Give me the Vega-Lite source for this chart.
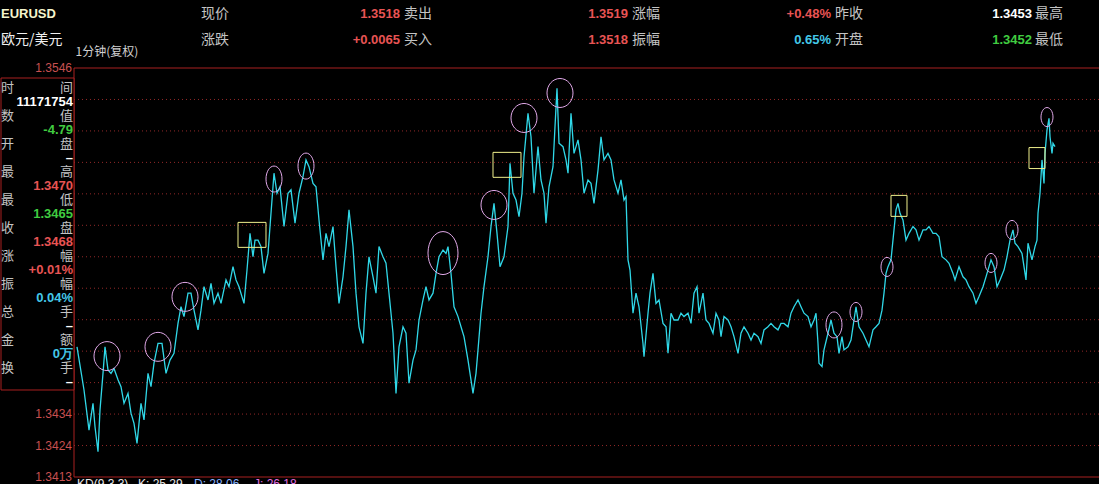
{
  "$schema": "https://vega.github.io/schema/vega-lite/v6.json",
  "background": "#000000",
  "padding": 0,
  "spacing": 0,
  "bounds": "flush",
  "config": {"view": {"stroke": null}, "concat": {"spacing": 0}},
  "resolve": {"scale": {"color": "independent"}},
  "datasets": {
    "header": [
      {"row": 1, "group": 0, "label": "EURUSD"},
      {"row": 2, "group": 0, "label": "欧元/美元"},
      {"row": 1, "group": 1, "label": "现价", "value": "1.3518", "tone": "up"},
      {"row": 2, "group": 1, "label": "涨跌", "value": "+0.0065", "tone": "up"},
      {"row": 1, "group": 2, "label": "卖出", "value": "1.3519", "tone": "up"},
      {"row": 2, "group": 2, "label": "买入", "value": "1.3518", "tone": "up"},
      {"row": 1, "group": 3, "label": "涨幅", "value": "+0.48%", "tone": "up"},
      {"row": 2, "group": 3, "label": "振幅", "value": "0.65%", "tone": "flat"},
      {"row": 1, "group": 4, "label": "昨收", "value": "1.3453", "tone": "plain"},
      {"row": 2, "group": 4, "label": "开盘", "value": "1.3452", "tone": "down"},
      {"row": 1, "group": 5, "label": "最高"},
      {"row": 2, "group": 5, "label": "最低"}
    ],
    "panel": [
      {"row": 0, "left": "时", "right": "间", "tone": "label"},
      {"row": 1, "right": "11171754", "tone": "plain"},
      {"row": 2, "left": "数", "right": "值", "tone": "label"},
      {"row": 3, "right": "-4.79", "tone": "down"},
      {"row": 4, "left": "开", "right": "盘", "tone": "label"},
      {"row": 5, "right": "–", "tone": "plain"},
      {"row": 6, "left": "最", "right": "高", "tone": "label"},
      {"row": 7, "right": "1.3470", "tone": "up"},
      {"row": 8, "left": "最", "right": "低", "tone": "label"},
      {"row": 9, "right": "1.3465", "tone": "down"},
      {"row": 10, "left": "收", "right": "盘", "tone": "label"},
      {"row": 11, "right": "1.3468", "tone": "up"},
      {"row": 12, "left": "涨", "right": "幅", "tone": "label"},
      {"row": 13, "right": "+0.01%", "tone": "up"},
      {"row": 14, "left": "振", "right": "幅", "tone": "label"},
      {"row": 15, "right": "0.04%", "tone": "flat"},
      {"row": 16, "left": "总", "right": "手", "tone": "label"},
      {"row": 17, "right": "–", "tone": "plain"},
      {"row": 18, "left": "金", "right": "额", "tone": "label"},
      {"row": 19, "right": "0万", "tone": "flat"},
      {"row": 20, "left": "换", "right": "手", "tone": "label"},
      {"row": 21, "right": "–", "tone": "plain"}
    ],
    "footer": [
      {"item": 0, "text": "KD(9,3,3)", "tone": "plain"},
      {"item": 1, "text": "K: 25.29", "tone": "plain"},
      {"item": 2, "text": "D: 28.06", "tone": "dline"},
      {"item": 3, "text": "J: 26.18", "tone": "jline"}
    ],
    "levels": [
      {"price": 1.34236}, {"price": 1.34338}, {"price": 1.3444}, {"price": 1.34542}, {"price": 1.34644}, {"price": 1.34746},
      {"price": 1.34848}, {"price": 1.3495}, {"price": 1.35052}, {"price": 1.35154}, {"price": 1.35256}, {"price": 1.35358}
    ],
    "ticks": [
      {"price": 1.3546}, {"price": 1.34338}, {"price": 1.34236}, {"price": 1.34134}
    ],
    "signals": [
      {"t": 30, "price": 1.34526, "marker": "ring-l"},
      {"t": 81, "price": 1.34556, "marker": "ring-l"},
      {"t": 108, "price": 1.34718, "marker": "ring-l"},
      {"t": 175, "price": 1.34919, "marker": "box-l"},
      {"t": 197, "price": 1.351, "marker": "ring-m"},
      {"t": 229, "price": 1.35142, "marker": "ring-m"},
      {"t": 366, "price": 1.3486, "marker": "ring-xl"},
      {"t": 417, "price": 1.35016, "marker": "ring-l"},
      {"t": 430, "price": 1.35146, "marker": "box-l"},
      {"t": 447, "price": 1.35298, "marker": "ring-l"},
      {"t": 483, "price": 1.35379, "marker": "ring-l"},
      {"t": 757, "price": 1.34627, "marker": "ring-m"},
      {"t": 779, "price": 1.34669, "marker": "ring-s"},
      {"t": 810, "price": 1.34815, "marker": "ring-s"},
      {"t": 822, "price": 1.35013, "marker": "box-s"},
      {"t": 914, "price": 1.34828, "marker": "ring-s"},
      {"t": 935, "price": 1.34935, "marker": "ring-s"},
      {"t": 960, "price": 1.35168, "marker": "box-s"},
      {"t": 970, "price": 1.35301, "marker": "ring-s"}
    ],
    "price": [
      {"t":0,"price":1.34556},{"t":7,"price":1.34416},{"t":12,"price":1.34286},{"t":16,"price":1.34373},{"t":18,"price":1.34297},{"t":21,"price":1.34216},{"t":23,"price":1.34351},{"t":26,"price":1.3447},{"t":28,"price":1.34556},{"t":31,"price":1.34481},
      {"t":34,"price":1.3447},{"t":37,"price":1.34486},{"t":41,"price":1.34449},{"t":44,"price":1.34427},{"t":47,"price":1.34373},{"t":51,"price":1.34405},{"t":54,"price":1.34341},{"t":57,"price":1.34308},{"t":60,"price":1.34243},{"t":64,"price":1.34373},
      {"t":67,"price":1.34319},{"t":71,"price":1.3447},{"t":74,"price":1.34427},{"t":77,"price":1.34503},{"t":81,"price":1.34567},{"t":85,"price":1.34567},{"t":89,"price":1.3447},{"t":93,"price":1.34513},{"t":97,"price":1.34535},{"t":101,"price":1.34632},
      {"t":104,"price":1.34686},{"t":107,"price":1.34654},{"t":111,"price":1.3473},{"t":114,"price":1.3473},{"t":117,"price":1.34675},{"t":121,"price":1.34611},{"t":124,"price":1.34675},{"t":127,"price":1.34751},{"t":131,"price":1.34708},{"t":134,"price":1.34762},
      {"t":137,"price":1.34697},{"t":141,"price":1.3473},{"t":144,"price":1.34697},{"t":149,"price":1.34773},{"t":152,"price":1.34751},{"t":156,"price":1.34816},{"t":159,"price":1.34773},{"t":162,"price":1.34751},{"t":167,"price":1.34697},{"t":170,"price":1.34805},
      {"t":173,"price":1.34924},{"t":176,"price":1.34848},{"t":178,"price":1.34902},{"t":181,"price":1.34902},{"t":184,"price":1.34881},{"t":187,"price":1.34794},{"t":191,"price":1.34859},{"t":194,"price":1.34989},{"t":197,"price":1.35119},{"t":200,"price":1.35054},
      {"t":203,"price":1.35075},{"t":207,"price":1.34946},{"t":211,"price":1.35054},{"t":214,"price":1.35065},{"t":218,"price":1.34957},{"t":222,"price":1.35054},{"t":226,"price":1.35108},{"t":229,"price":1.35162},{"t":232,"price":1.3514},{"t":236,"price":1.35086},
      {"t":239,"price":1.35075},{"t":242,"price":1.34967},{"t":246,"price":1.34838},{"t":249,"price":1.34924},{"t":252,"price":1.34881},{"t":256,"price":1.34946},{"t":259,"price":1.34816},{"t":262,"price":1.34697},{"t":266,"price":1.34783},{"t":269,"price":1.34881},
      {"t":272,"price":1.35},{"t":276,"price":1.34881},{"t":279,"price":1.3473},{"t":282,"price":1.34621},{"t":286,"price":1.34567},{"t":289,"price":1.3473},{"t":292,"price":1.34848},{"t":296,"price":1.34783},{"t":299,"price":1.3473},{"t":302,"price":1.34881},
      {"t":306,"price":1.34848},{"t":309,"price":1.34827},{"t":312,"price":1.3473},{"t":316,"price":1.346},{"t":319,"price":1.34405},{"t":322,"price":1.34556},{"t":326,"price":1.34621},{"t":329,"price":1.346},{"t":332,"price":1.34438},{"t":336,"price":1.34513},
      {"t":339,"price":1.34546},{"t":342,"price":1.34643},{"t":346,"price":1.34708},{"t":349,"price":1.34751},{"t":352,"price":1.34708},{"t":356,"price":1.3473},{"t":359,"price":1.34794},{"t":362,"price":1.34848},{"t":366,"price":1.3487},{"t":369,"price":1.34859},
      {"t":371,"price":1.34881},{"t":374,"price":1.34794},{"t":377,"price":1.34686},{"t":381,"price":1.34654},{"t":384,"price":1.34621},{"t":387,"price":1.34589},{"t":391,"price":1.34513},{"t":394,"price":1.34449},{"t":396,"price":1.34405},{"t":399,"price":1.3447},
      {"t":401,"price":1.34546},{"t":404,"price":1.34665},{"t":407,"price":1.34751},{"t":411,"price":1.34848},{"t":414,"price":1.34946},{"t":417,"price":1.35021},{"t":420,"price":1.34924},{"t":423,"price":1.34816},{"t":427,"price":1.34848},{"t":431,"price":1.34946},
      {"t":433,"price":1.35151},{"t":436,"price":1.35054},{"t":439,"price":1.35032},{"t":442,"price":1.34978},{"t":445,"price":1.35054},{"t":447,"price":1.35172},{"t":451,"price":1.35313},{"t":454,"price":1.35237},{"t":457,"price":1.35054},{"t":461,"price":1.35205},
      {"t":464,"price":1.35097},{"t":467,"price":1.35054},{"t":469,"price":1.34957},{"t":472,"price":1.35075},{"t":476,"price":1.3514},{"t":478,"price":1.3527},{"t":480,"price":1.35394},{"t":482,"price":1.35216},{"t":486,"price":1.35205},{"t":489,"price":1.35162},
      {"t":491,"price":1.35119},{"t":494,"price":1.35313},{"t":497,"price":1.35183},{"t":501,"price":1.35227},{"t":504,"price":1.35162},{"t":507,"price":1.35054},{"t":511,"price":1.35097},{"t":514,"price":1.35086},{"t":517,"price":1.35021},{"t":521,"price":1.35129},
      {"t":524,"price":1.35237},{"t":527,"price":1.35162},{"t":531,"price":1.35183},{"t":534,"price":1.35162},{"t":537,"price":1.35097},{"t":541,"price":1.35054},{"t":544,"price":1.35097},{"t":547,"price":1.35032},{"t":549,"price":1.35043},{"t":551,"price":1.34838},
      {"t":553,"price":1.34805},{"t":556,"price":1.34665},{"t":559,"price":1.3473},{"t":562,"price":1.34686},{"t":566,"price":1.34567},{"t":567,"price":1.34524},{"t":571,"price":1.34665},{"t":573,"price":1.3473},{"t":576,"price":1.34794},{"t":579,"price":1.34697},
      {"t":582,"price":1.34708},{"t":586,"price":1.34632},{"t":589,"price":1.34621},{"t":591,"price":1.34535},{"t":594,"price":1.34665},{"t":597,"price":1.34643},{"t":601,"price":1.34643},{"t":604,"price":1.34665},{"t":607,"price":1.34654},{"t":611,"price":1.34665},
      {"t":614,"price":1.34632},{"t":617,"price":1.3473},{"t":620,"price":1.34751},{"t":622,"price":1.34665},{"t":626,"price":1.3473},{"t":629,"price":1.34643},{"t":632,"price":1.34632},{"t":636,"price":1.346},{"t":639,"price":1.34665},{"t":642,"price":1.34643},
      {"t":644,"price":1.34589},{"t":647,"price":1.34654},{"t":651,"price":1.34643},{"t":654,"price":1.34621},{"t":657,"price":1.34589},{"t":661,"price":1.34535},{"t":664,"price":1.346},{"t":667,"price":1.34621},{"t":671,"price":1.346},{"t":674,"price":1.34578},
      {"t":677,"price":1.346},{"t":681,"price":1.34589},{"t":684,"price":1.34567},{"t":687,"price":1.34611},{"t":691,"price":1.34621},{"t":694,"price":1.34632},{"t":697,"price":1.34621},{"t":701,"price":1.34611},{"t":704,"price":1.34632},{"t":707,"price":1.34632},
      {"t":711,"price":1.34621},{"t":714,"price":1.34665},{"t":717,"price":1.34686},{"t":721,"price":1.34708},{"t":724,"price":1.34686},{"t":727,"price":1.34665},{"t":731,"price":1.34654},{"t":734,"price":1.34621},{"t":737,"price":1.34643},{"t":739,"price":1.34665},
      {"t":741,"price":1.34567},{"t":742,"price":1.34503},{"t":745,"price":1.34492},{"t":747,"price":1.34546},{"t":751,"price":1.346},{"t":754,"price":1.34643},{"t":757,"price":1.346},{"t":760,"price":1.34589},{"t":762,"price":1.34535},{"t":765,"price":1.34589},
      {"t":767,"price":1.34546},{"t":771,"price":1.34556},{"t":774,"price":1.34578},{"t":777,"price":1.34643},{"t":779,"price":1.34686},{"t":782,"price":1.34621},{"t":786,"price":1.346},{"t":789,"price":1.34578},{"t":792,"price":1.34556},{"t":796,"price":1.34611},
      {"t":799,"price":1.34621},{"t":802,"price":1.34632},{"t":805,"price":1.34675},{"t":807,"price":1.3473},{"t":809,"price":1.34794},{"t":811,"price":1.34816},{"t":814,"price":1.34838},{"t":817,"price":1.34935},{"t":819,"price":1.35},{"t":821,"price":1.35021},
      {"t":823,"price":1.34989},{"t":826,"price":1.34967},{"t":829,"price":1.34902},{"t":832,"price":1.34924},{"t":836,"price":1.34946},{"t":839,"price":1.34935},{"t":842,"price":1.34902},{"t":846,"price":1.34935},{"t":849,"price":1.34935},{"t":852,"price":1.34946},
      {"t":856,"price":1.34924},{"t":859,"price":1.34924},{"t":862,"price":1.34913},{"t":865,"price":1.34848},{"t":869,"price":1.34838},{"t":872,"price":1.34827},{"t":876,"price":1.34794},{"t":878,"price":1.34773},{"t":882,"price":1.34816},{"t":886,"price":1.34783},
      {"t":889,"price":1.34773},{"t":892,"price":1.34751},{"t":896,"price":1.3473},{"t":899,"price":1.34697},{"t":902,"price":1.34719},{"t":906,"price":1.34751},{"t":909,"price":1.34783},{"t":912,"price":1.34816},{"t":914,"price":1.34838},{"t":917,"price":1.34816},
      {"t":920,"price":1.34751},{"t":923,"price":1.34773},{"t":927,"price":1.34805},{"t":930,"price":1.34848},{"t":933,"price":1.34902},{"t":936,"price":1.34935},{"t":938,"price":1.34892},{"t":941,"price":1.34881},{"t":945,"price":1.34859},{"t":949,"price":1.34773},
      {"t":951,"price":1.34892},{"t":955,"price":1.34838},{"t":958,"price":1.34881},{"t":960,"price":1.34902},{"t":961,"price":1.34989},{"t":963,"price":1.35054},{"t":965,"price":1.35162},{"t":967,"price":1.35086},{"t":968,"price":1.35183},{"t":970,"price":1.35259},
      {"t":972,"price":1.35297},{"t":973,"price":1.35237},{"t":975,"price":1.35183},{"t":976,"price":1.35216},{"t":978,"price":1.35205}
    ]
  },
  "vconcat": [
    {
      "width": 1099,
      "height": 68,
      "data": {"name": "header"},
      "layer": [
        {
          "transform": [{"filter": "datum.group == 0 && datum.row == 1"}],
          "mark": {"type": "text", "align": "left", "baseline": "middle", "font": "Liberation Sans", "fontSize": 13, "fontWeight": "bold", "color": "#f4f4cc"},
          "encoding": {
            "x": {"field": "group", "type": "quantitative", "scale": {"domain": [0, 1, 2, 3, 4, 5], "range": [0, 200, 403, 631, 834, 1034], "nice": false, "zero": false}, "axis": null},
            "y": {"field": "row", "type": "quantitative", "scale": {"domain": [0.4615, 3.077], "reverse": true, "nice": false, "zero": false}, "axis": null},
            "text": {"field": "label"}
          }
        },
        {
          "transform": [{"filter": "!(datum.group == 0 && datum.row == 1)"}],
          "mark": {"type": "text", "align": "left", "baseline": "middle", "font": "Noto Sans CJK SC", "fontSize": 14},
          "encoding": {
            "x": {"field": "group", "type": "quantitative", "scale": {"domain": [0, 1, 2, 3, 4, 5], "range": [0, 200, 403, 631, 834, 1034], "nice": false, "zero": false}, "axis": null},
            "y": {"field": "row", "type": "quantitative", "scale": {"domain": [0.4615, 3.077], "reverse": true, "nice": false, "zero": false}, "axis": null},
            "text": {"field": "label"},
            "color": {"condition": {"test": "datum.group == 0", "value": "#f0f0f0"}, "value": "#c4c4c4"}
          }
        },
        {
          "transform": [{"filter": "datum.value"}],
          "mark": {"type": "text", "align": "right", "baseline": "middle", "font": "Liberation Sans", "fontSize": 13, "fontWeight": "bold"},
          "encoding": {
            "x": {"field": "group", "type": "quantitative", "scale": {"domain": [1, 2, 3, 4], "range": [399, 627, 830, 1031], "nice": false, "zero": false}, "axis": null},
            "y": {"field": "row", "type": "quantitative", "scale": {"domain": [0.4615, 3.077], "reverse": true, "nice": false, "zero": false}, "axis": null},
            "text": {"field": "value"},
            "color": {"field": "tone", "type": "nominal", "scale": {"domain": ["up", "down", "flat", "plain"], "range": ["#e85454", "#40cc40", "#44c8e8", "#ffffff"]}, "legend": null}
          }
        }
      ],
      "resolve": {"scale": {"x": "independent", "y": "independent", "color": "independent"}}
    },
    {
      "width": 1099,
      "height": 409,
      "title": {"text": "1分钟(复权)", "anchor": "start", "font": "Noto Sans CJK SC", "fontSize": 12, "fontWeight": "normal", "color": "#d0d0d0", "offset": 3, "dx": 75},
      "layer": [
        {
          "layer": [
            {
              "data": {"name": "levels"},
              "mark": {"type": "rule", "color": "#922828", "strokeDash": [1, 3], "strokeWidth": 1},
              "encoding": {
                "x": {"datum": -3, "type": "quantitative", "axis": null},
                "x2": {"datum": 1025},
                "y": {"field": "price", "type": "quantitative", "axis": null}
              }
            },
            {
              "data": {"name": "price"},
              "mark": {"type": "line", "color": "#30d8e8", "strokeWidth": 1.3},
              "encoding": {
                "x": {"field": "t", "type": "quantitative", "scale": {"domain": [-76, 1023], "nice": false, "zero": false}, "axis": null},
                "y": {"field": "price", "type": "quantitative", "scale": {"domain": [1.34134, 1.3546], "nice": false, "zero": false}, "axis": null}
              }
            },
            {
              "data": {"values": [{"frame": "plot"}]},
              "mark": {"type": "rect", "fillOpacity": 0, "stroke": "#a82020", "strokeWidth": 1},
              "encoding": {
                "x": {"datum": -3, "type": "quantitative", "axis": null},
                "x2": {"datum": 1025},
                "y": {"datum": 1.3546, "type": "quantitative", "axis": null},
                "y2": {"datum": 1.34134}
              }
            },
            {
              "data": {"name": "ticks"},
              "mark": {"type": "text", "align": "right", "baseline": "middle", "font": "Liberation Sans", "fontSize": 12, "color": "#c85050", "dx": -2},
              "encoding": {
                "x": {"datum": -3, "type": "quantitative", "axis": null},
                "y": {"field": "price", "type": "quantitative", "axis": null},
                "text": {"field": "price", "type": "quantitative", "format": ".4f"}
              }
            },
            {
              "data": {"name": "signals"},
              "mark": {"type": "point", "filled": false, "size": 1849, "strokeWidth": 1, "opacity": 1},
              "encoding": {
                "x": {"field": "t", "type": "quantitative", "axis": null},
                "y": {"field": "price", "type": "quantitative", "axis": null},
                "shape": {
                  "field": "marker", "type": "nominal", "legend": null,
                  "scale": {
                    "domain": ["ring-xl", "ring-l", "ring-m", "ring-s", "box-l", "box-s"],
                    "range": [
                      "M0,-1C0.3855,-1,0.698,-0.5523,0.698,0C0.698,0.5523,0.3855,1,0,1C-0.3855,1,-0.698,0.5523,-0.698,0C-0.698,-0.5523,-0.3855,-1,0,-1Z",
                      "M0,-0.674C0.3341,-0.674,0.605,-0.3722,0.605,0C0.605,0.3722,0.3341,0.674,0,0.674C-0.3341,0.674,-0.605,0.3722,-0.605,0C-0.605,-0.3722,-0.3341,-0.674,0,-0.674Z",
                      "M0,-0.605C0.2055,-0.605,0.372,-0.3341,0.372,0C0.372,0.3341,0.2055,0.605,0,0.605C-0.2055,0.605,-0.372,0.3341,-0.372,0C-0.372,-0.3341,-0.2055,-0.605,0,-0.605Z",
                      "M0,-0.442C0.1541,-0.442,0.279,-0.2441,0.279,0C0.279,0.2441,0.1541,0.442,0,0.442C-0.1541,0.442,-0.279,0.2441,-0.279,0C-0.279,-0.2441,-0.1541,-0.442,0,-0.442Z",
                      "M-0.651,-0.581L0.651,-0.581L0.651,0.581L-0.651,0.581Z",
                      "M-0.372,-0.488L0.372,-0.488L0.372,0.488L-0.372,0.488Z"
                    ]
                  }
                },
                "stroke": {
                  "field": "marker", "type": "nominal", "legend": null,
                  "scale": {
                    "domain": ["ring-xl", "ring-l", "ring-m", "ring-s", "box-l", "box-s"],
                    "range": ["#e0a8e8", "#e0a8e8", "#e0a8e8", "#e0a8e8", "#f0f08c", "#f0f08c"]
                  }
                }
              }
            }
          ]
        },
        {
          "data": {"name": "panel"},
          "layer": [
            {
              "data": {"values": [{"frame": "panel"}]},
              "mark": {"type": "rect", "fill": "#000000", "stroke": "#a82020", "strokeWidth": 1},
              "encoding": {
                "x": {"datum": -76, "type": "quantitative", "axis": null},
                "x2": {"datum": -3},
                "y": {"datum": -0.714, "type": "quantitative", "scale": {"domain": [-1.4286, 27.786], "reverse": true, "nice": false, "zero": false}, "axis": null},
                "y2": {"datum": 21.571}
              }
            },
            {
              "transform": [{"filter": "datum.left"}],
              "mark": {"type": "text", "align": "left", "baseline": "middle", "font": "Noto Sans CJK SC", "fontSize": 13, "color": "#c4c4c4"},
              "encoding": {
                "x": {"datum": -76, "type": "quantitative", "axis": null},
                "y": {"field": "row", "type": "quantitative", "axis": null},
                "text": {"field": "left"}
              }
            },
            {
              "transform": [{"filter": "datum.tone == 'label'"}],
              "mark": {"type": "text", "align": "right", "baseline": "middle", "font": "Noto Sans CJK SC", "fontSize": 13, "color": "#c4c4c4", "dx": -1},
              "encoding": {
                "x": {"datum": -3, "type": "quantitative", "axis": null},
                "y": {"field": "row", "type": "quantitative", "axis": null},
                "text": {"field": "right"}
              }
            },
            {
              "transform": [{"filter": "datum.tone != 'label'"}],
              "mark": {"type": "text", "align": "right", "baseline": "middle", "font": "Liberation Sans", "fontSize": 13, "fontWeight": "bold", "dx": -1},
              "encoding": {
                "x": {"datum": -3, "type": "quantitative", "axis": null},
                "y": {"field": "row", "type": "quantitative", "axis": null},
                "text": {"field": "right"},
                "color": {"field": "tone", "type": "nominal", "scale": {"domain": ["up", "down", "flat", "plain"], "range": ["#e85454", "#40cc40", "#44c8e8", "#ffffff"]}, "legend": null}
              }
            }
          ]
        }
      ],
      "resolve": {"scale": {"y": "independent"}}
    },
    {
      "width": 1099,
      "height": 14,
      "data": {"name": "footer"},
      "mark": {"type": "text", "align": "left", "baseline": "middle", "font": "Liberation Sans", "fontSize": 12},
      "encoding": {
        "x": {"field": "item", "type": "quantitative", "scale": {"domain": [0, 1, 2, 3], "range": [76, 137, 193, 253], "nice": false, "zero": false}, "axis": null},
        "y": {"datum": 0.5, "type": "quantitative", "scale": {"domain": [0, 1], "nice": false, "zero": false}, "axis": null},
        "text": {"field": "text"},
        "color": {"field": "tone", "type": "nominal", "scale": {"domain": ["plain", "dline", "jline"], "range": ["#e8e8e8", "#8ab4ff", "#e070e0"]}, "legend": null}
      }
    }
  ]
}
